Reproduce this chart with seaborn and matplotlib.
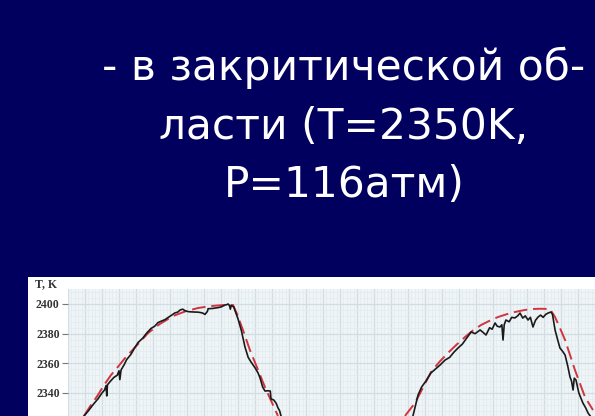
import matplotlib
matplotlib.use("Agg")
import matplotlib.pyplot as plt
from matplotlib.patches import Rectangle
from matplotlib.ticker import MultipleLocator, FixedLocator
import pandas as pd
import seaborn as sns

# Slide title lines
title_lines = ["- в закритической об-", "ласти (T=2350K,", "P=116атм)"]

# Axis labelling
y_label = "T, K"
y_ticks = [2340, 2360, 2380, 2400]

# Measured temperature, first pulse (time in grid units, T in K)
meas1_t = [0.94, 1.2, 1.5, 1.76, 2.0, 2.15, 2.24, 2.28, 2.32, 2.5, 2.7, 2.9, 3.0, 3.05,
           3.12, 3.3, 3.45, 3.7, 3.9, 4.12, 4.4, 4.6, 4.88, 5.1, 5.3, 5.5, 5.71, 5.9,
           6.1, 6.29, 6.45, 6.6, 6.75, 6.88, 7.1, 7.4, 7.65, 7.9, 8.06, 8.2, 8.24, 8.5,
           8.8, 9.0, 9.24, 9.35, 9.41, 9.5, 9.55, 9.6, 9.75, 10.0, 10.2, 10.41, 10.6,
           10.76, 11.0, 11.18, 11.3, 11.45, 11.59, 11.75, 11.9, 11.94, 12.1, 12.25,
           12.35, 12.45, 12.53]
meas1_T = [2324.5, 2328, 2332.5, 2336, 2340, 2342, 2345, 2338, 2345.5, 2348, 2350.5,
           2352, 2355, 2349, 2355.5, 2359, 2362.5, 2366, 2370, 2374, 2377, 2380,
           2383.5, 2385, 2387.5, 2388.5, 2389.5, 2391, 2392.5, 2394, 2394.5, 2396,
           2396.5, 2395.5, 2394.8, 2394.6, 2394.5, 2394, 2393, 2395, 2396.8, 2397,
           2397.5, 2398, 2399.3, 2399.6, 2400, 2399, 2396.5, 2399, 2398, 2390, 2382,
           2371, 2364, 2361, 2357, 2353.5, 2350, 2344, 2341.3, 2341.5, 2341.3, 2336,
           2335.3, 2333, 2330, 2328, 2324.5]

# Fitted curve, first pulse
fit1_t = [0.94, 1.3, 1.76, 2.1, 2.53, 3.0, 3.41, 4.0, 4.71, 5.4, 6.18, 6.9, 7.65, 8.4,
          9.12, 9.71, 9.95, 10.29, 10.7, 11.18, 11.6, 12.06, 12.35]
fit1_T = [2324.5, 2331, 2338.6, 2345, 2352.1, 2358.5, 2364.3, 2371.5, 2380.4, 2386.5,
          2391.9, 2395, 2397.3, 2398.6, 2399.3, 2399.3, 2393, 2382.5, 2369, 2355.5,
          2343.5, 2331.9, 2324.5]

# Measured temperature, second pulse
meas2_t = [20.29, 20.45, 20.59, 20.8, 21.05, 21.35, 21.6, 21.9, 22.18, 22.45, 22.7,
           22.94, 23.2, 23.45, 23.71, 23.95, 24.24, 24.4, 24.59, 24.8, 24.95, 25.12,
           25.25, 25.41, 25.52, 25.59, 25.66, 25.76, 25.95, 26.1, 26.29, 26.45, 26.59,
           26.75, 26.9, 27.06, 27.2, 27.35, 27.5, 27.65, 27.8, 27.95, 28.1, 28.24,
           28.41, 28.5, 28.65, 28.8, 28.94, 29.1, 29.24, 29.4, 29.53, 29.62, 29.71,
           29.78, 29.88, 30.05, 30.29, 30.45, 30.59, 30.88]
meas2_T = [2324.5, 2332, 2338.6, 2344, 2348, 2353.5, 2356, 2359, 2362.2, 2364, 2367.5,
           2370.3, 2373, 2377, 2381.1, 2380, 2382.5, 2381, 2379.1, 2384, 2383, 2387.2,
           2385, 2384.5, 2386, 2375.7, 2386, 2389.2, 2388, 2391, 2390.6, 2392, 2393.9,
           2390.5, 2392, 2389.2, 2391, 2384.5, 2389, 2391.2, 2392.5, 2391, 2393,
           2393.9, 2394.6, 2393, 2382.5, 2376, 2370.3, 2368, 2365.6, 2358, 2350.8,
           2348, 2342.0, 2350, 2348.8, 2340, 2333.2, 2330, 2326.5, 2322]

# Fitted curve, second pulse
fit2_t = [19.82, 20.41, 20.9, 21.35, 21.85, 22.35, 22.85, 23.35, 23.8, 24.29, 24.8,
          25.29, 25.8, 26.29, 26.75, 27.24, 27.8, 28.35, 28.65, 28.95, 29.24, 29.82,
          30.41, 30.88]
fit2_T = [2324.5, 2333.2, 2344, 2354.1, 2361, 2367.0, 2372.5, 2377.7, 2382, 2385.8,
          2388.7, 2391.2, 2393.1, 2394.6, 2395.7, 2396.6, 2396.8, 2396.6, 2391.2,
          2383.5, 2375.7, 2355.5, 2337.3, 2328.5]

W, H = 595, 416
bg = "#02005f"

fig = plt.figure(figsize=(W / 100, H / 100), dpi=100)
fig.patch.set_facecolor(bg)

# Title text in the slide
baselines = [80, 139, 197]
for line, yb in zip(title_lines, baselines):
    fig.text(344 / W, 1 - yb / H, line, color="white", fontsize=30.5,
             family="DejaVu Sans", ha="center", va="baseline")

# White panel holding the graph
fig.patches.append(Rectangle((28 / W, 0), 1 - 28 / W, (H - 277) / H,
                             transform=fig.transFigure, facecolor="white",
                             edgecolor="none", zorder=-5))

ax = fig.add_axes([68 / W, 0, 1 - 68 / W, (H - 289) / H])
ax.set_zorder(2)
ax.set_facecolor("#eff4f6")

df = pd.concat([
    pd.DataFrame({"t": meas1_t, "T": meas1_T, "series": "meas1"}),
    pd.DataFrame({"t": meas2_t, "T": meas2_T, "series": "meas2"}),
])
dfit = pd.concat([
    pd.DataFrame({"t": fit1_t, "T": fit1_T, "series": "fit1"}),
    pd.DataFrame({"t": fit2_t, "T": fit2_T, "series": "fit2"}),
])

sns.lineplot(data=dfit, x="t", y="T", units="series", estimator=None, sort=False,
             color="#d0343f", linewidth=1.4, ax=ax, zorder=3, legend=False)
for ln in ax.get_lines():
    ln.set_dashes((7, 3))
sns.lineplot(data=df, x="t", y="T", units="series", estimator=None, sort=False,
             color="#1a1a1a", linewidth=1.2, ax=ax, zorder=4, legend=False)

ax.set_xlim(0, (W - 68) / 17)
ax.set_ylim(2400 - (H - 304) / 1.483, 2400 + (304 - 289) / 1.483)

ax.xaxis.set_major_locator(MultipleLocator(1))
ax.xaxis.set_minor_locator(MultipleLocator(0.2))
ax.yaxis.set_major_locator(FixedLocator(y_ticks))
ax.yaxis.set_minor_locator(MultipleLocator(4))
ax.grid(which="major", color="#d0dde4", linewidth=0.9)
ax.grid(which="minor", color="#e3ebef", linewidth=0.5)
ax.set_axisbelow(True)

for s in ax.spines.values():
    s.set_visible(False)
ax.tick_params(axis="x", which="both", bottom=False, labelbottom=False)
ax.tick_params(axis="y", which="minor", left=False)
ax.tick_params(axis="y", which="major", length=4, color="#777777", width=0.8,
               pad=2, labelsize=8.5, labelcolor="#333333")
for lab in ax.get_yticklabels():
    lab.set_family("Liberation Serif")
    lab.set_fontweight("bold")
ax.set_xlabel("")
ax.set_ylabel("")

fig.text(35 / W, 1 - 287 / H, y_label, family="Liberation Serif", fontweight="bold",
         fontsize=8.5, color="#333333", ha="left", va="baseline")

fig.savefig("out.png", dpi=100, facecolor=bg)
